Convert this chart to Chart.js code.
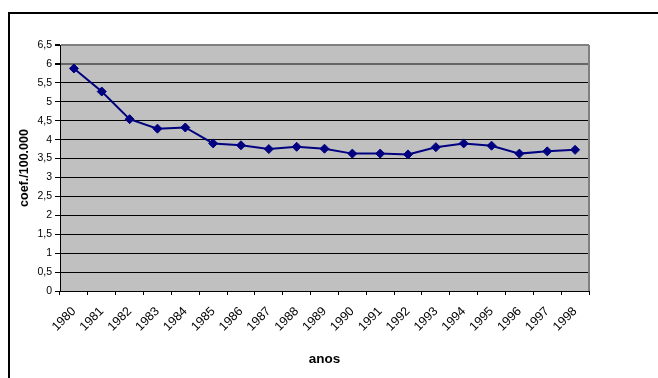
<!DOCTYPE html>
<html>
<head>
<meta charset="utf-8">
<script src="https://cdn.jsdelivr.net/npm/chart.js@4/dist/chart.umd.min.js"></script>
<style>
  html, body { margin: 0; padding: 0; background: #fff; overflow: hidden; }
  #wrap { position: relative; width: 658px; height: 378px; overflow: hidden; }
  #frame { position: absolute; left: 8px; top: 12px; width: 700px; height: 420px;
           border-left: 2px solid #000; border-top: 2px solid #000; }
  #c { position: absolute; left: 0; top: 0; }
</style>
</head>
<body>
<div id="wrap">
  <div id="frame"></div>
  <canvas id="c" width="658" height="378"></canvas>
</div>
<script>
// Coeficiente por 100.000, 1980-1998
const anos = ['1980','1981','1982','1983','1984','1985','1986','1987','1988','1989',
              '1990','1991','1992','1993','1994','1995','1996','1997','1998'];
const coeficientes = [5.88, 5.27, 4.54, 4.29, 4.32, 3.90, 3.85, 3.75, 3.81, 3.76,
                      3.63, 3.63, 3.61, 3.80, 3.90, 3.84, 3.63, 3.69, 3.73];
const yMin = 0, yMax = 6.5, yStep = 0.5;

const FONT = 'Liberation Sans, Arial, sans-serif';

// grey plot background plus the grey frame on the right edge
const plotArea = {
  id: 'plotArea',
  beforeDraw(chart) {
    const { ctx, chartArea: a } = chart;
    ctx.save();
    ctx.fillStyle = '#C0C0C0';
    ctx.fillRect(a.left, a.top, a.right - a.left, a.bottom - a.top);
    ctx.restore();
  },
  afterDatasetsDraw(chart) {
    const { ctx, chartArea: a } = chart;
    ctx.save();
    ctx.strokeStyle = '#808080';
    ctx.lineWidth = 2;
    ctx.beginPath();
    ctx.moveTo(a.right, a.top);
    ctx.lineTo(a.right, a.bottom);
    ctx.stroke();
    ctx.restore();
  }
};

new Chart(document.getElementById('c'), {
  type: 'line',
  data: {
    labels: anos,
    datasets: [{
      data: coeficientes,
      borderColor: '#000080',
      backgroundColor: '#000080',
      borderWidth: 2,
      tension: 0,
      pointStyle: 'rectRot',
      pointRadius: 4.5,
      pointBackgroundColor: '#000080',
      pointBorderColor: '#000080',
      pointBorderWidth: 1
    }]
  },
  options: {
    responsive: false,
    animation: false,
    devicePixelRatio: 1,
    layout: { padding: { top: 45, right: 69, left: 0, bottom: 0 } },
    plugins: { legend: { display: false }, tooltip: { enabled: false } },
    scales: {
      x: {
        type: 'category',
        offset: true,
        afterFit(s) { s.height = 87; },
        grid: { offset: true, drawOnChartArea: false, tickLength: 4, tickColor: '#000' },
        border: { display: true, color: '#000', width: 1 },
        ticks: {
          autoSkip: false, minRotation: 45, maxRotation: 45, padding: 9,
          color: '#000', font: { family: FONT, size: 12.5 }
        },
        title: {
          display: true, text: 'anos', color: '#000',
          font: { family: FONT, size: 13.5, weight: 'bold' },
          padding: { top: 0, bottom: 11 }
        }
      },
      y: {
        min: yMin, max: yMax,
        afterFit(s) { s.width = 60; },
        grid: {
          color: c => c.tick.value === 6 ? '#666666' : (c.tick.value === yMax ? '#808080' : '#000000'),
          lineWidth: c => c.tick.value === 6 ? 2 : (c.tick.value === yMax ? 2 : 1),
          tickColor: '#000', tickLength: 5
        },
        border: { display: true, color: '#000', width: 1 },
        ticks: {
          stepSize: yStep, padding: 3, color: '#000',
          font: { family: FONT, size: 10.5 },
          callback: v => String(v).replace('.', ',')
        },
        title: {
          display: true, text: 'coef./100.000', color: '#000',
          font: { family: FONT, size: 12.5, weight: 'bold' },
          padding: { top: 17, bottom: 0 }
        }
      }
    }
  },
  plugins: [plotArea]
});
</script>
</body>
</html>
